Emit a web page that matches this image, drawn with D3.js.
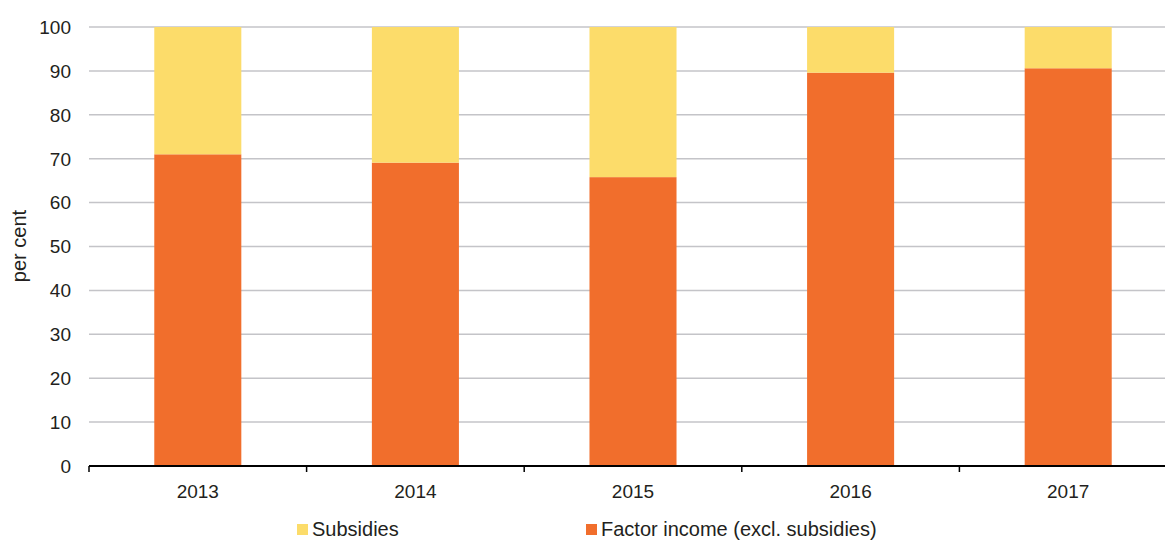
<!DOCTYPE html>
<meta charset="utf-8">
<style>
    body { margin: 0; background: #fff; }
    text { font-family: "Liberation Sans", Arial, sans-serif; fill: #231f20; }
    .grid line { stroke: #c4c4c8; stroke-width: 1.5; }
</style>
<body>
<script src="https://d3js.org/d3.v7.min.js"></script>
<script>
    // data
    var years = ["2013", "2014", "2015", "2016", "2017"];
    var factorIncome = [71.0, 69.1, 65.8, 89.6, 90.6];
    var subsidies = [29.0, 30.9, 34.2, 10.4, 9.4];
    var yTicks = [0, 10, 20, 30, 40, 50, 60, 70, 80, 90, 100];

    var width = 1165, height = 541;

    var svg = d3.select("body").append("svg")
        .attr("width", width)
        .attr("height", height);

    // band range runs a bit past the right edge, as in the original
    var x = d3.scaleBand()
        .domain(years)
        .range([89, 1177])
        .paddingInner(0.6)
        .paddingOuter(0.3);

    var y = d3.scaleLinear()
        .domain([0, 100])
        .range([466, 27]);

    // grid lines
    svg.append("g")
        .attr("class", "grid")
        .selectAll("line")
        .data(yTicks.slice(1))
        .enter().append("line")
        .attr("x1", 89)
        .attr("x2", width)
        .attr("y1", function (d) { return y(d); })
        .attr("y2", function (d) { return y(d); });

    // y tick labels
    svg.append("g")
        .selectAll("text")
        .data(yTicks)
        .enter().append("text")
        .attr("x", 71)
        .attr("y", function (d) { return y(d); })
        .attr("dy", "0.36em")
        .attr("text-anchor", "end")
        .style("font-size", "19px")
        .text(function (d) { return d; });

    // stacked bars
    var rows = years.map(function (yr, i) {
        return { year: yr, factor: factorIncome[i], subsidies: subsidies[i] };
    });
    var stack = d3.stack().keys(["factor", "subsidies"])(rows);
    var colors = { factor: "#f16e2c", subsidies: "#fcdc6a" };

    svg.append("g")
        .selectAll("g")
        .data(stack)
        .enter().append("g")
        .attr("fill", function (d) { return colors[d.key]; })
        .selectAll("rect")
        .data(function (d) { return d; })
        .enter().append("rect")
        .attr("x", function (d) { return x(d.data.year); })
        .attr("width", x.bandwidth())
        .attr("y", function (d) { return y(d[1]); })
        .attr("height", function (d) { return y(d[0]) - y(d[1]); });

    // x axis, ticks sit on the category boundaries
    var step = x.step();
    function boundary(d) { return x(d) + x.bandwidth() / 2 - step / 2; }
    var xAxis = svg.append("g");
    xAxis.append("line")
        .attr("x1", 89).attr("x2", width)
        .attr("y1", 466).attr("y2", 466)
        .attr("stroke", "#000").attr("stroke-width", 2);
    xAxis.selectAll(".tick")
        .data(years)
        .enter().append("line")
        .attr("class", "tick")
        .attr("x1", boundary)
        .attr("x2", boundary)
        .attr("y1", 466).attr("y2", 472)
        .attr("stroke", "#000").attr("stroke-width", 1.5);
    xAxis.selectAll("text")
        .data(years)
        .enter().append("text")
        .attr("x", function (d) { return x(d) + x.bandwidth() / 2; })
        .attr("y", 498)
        .attr("text-anchor", "middle")
        .style("font-size", "19px")
        .text(function (d) { return d; });

    // y label
    svg.append("text")
        .attr("transform", "translate(26,246) rotate(-90)")
        .attr("text-anchor", "middle")
        .style("font-size", "20px")
        .text("per cent");

    // legend
    var legend = [
        { name: "Subsidies", color: colors.subsidies, x: 297 },
        { name: "Factor income (excl. subsidies)", color: colors.factor, x: 586 }
    ];
    var lg = svg.append("g").selectAll("g")
        .data(legend)
        .enter().append("g");
    lg.append("rect")
        .attr("x", function (d) { return d.x; })
        .attr("y", 524)
        .attr("width", 11).attr("height", 11)
        .attr("fill", function (d) { return d.color; });
    lg.append("text")
        .attr("x", function (d) { return d.x + 15; })
        .attr("y", 536)
        .style("font-size", "20px")
        .text(function (d) { return d.name; });
</script>
</body>
